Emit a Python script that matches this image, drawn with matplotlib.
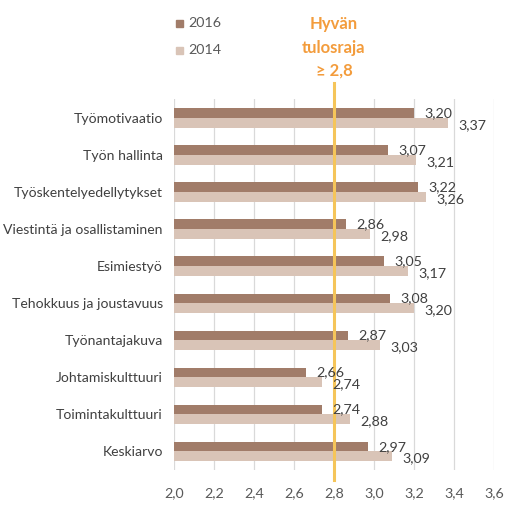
import matplotlib
matplotlib.use("Agg")
import matplotlib.pyplot as plt
import numpy as np

plt.rcParams['font.family'] = ['Lato', 'DejaVu Sans']

categories = ["Työmotivaatio", "Työn hallinta", "Työskentelyedellytykset",
              "Viestintä ja osallistaminen", "Esimiestyö", "Tehokkuus ja joustavuus",
              "Työnantajakuva", "Johtamiskulttuuri", "Toimintakulttuuri", "Keskiarvo"]
v2016 = [3.20, 3.07, 3.22, 2.86, 3.05, 3.08, 2.87, 2.66, 2.74, 2.97]
v2014 = [3.37, 3.21, 3.26, 2.98, 3.17, 3.20, 3.03, 2.74, 2.88, 3.09]
xticks = [2.0, 2.2, 2.4, 2.6, 2.8, 3.0, 3.2, 3.4, 3.6]
threshold = 2.8

c2016 = "#A17C69"
c2014 = "#D9C4B7"
corange = "#F39C3C"
cline = "#F5C55A"

fig = plt.figure(figsize=(5.18, 5.12), dpi=100)
ax = fig.add_axes([0.336, 0.082, 0.618, 0.724])

y = np.arange(len(categories))
h = 0.26
ax.barh(y - h/2, [v - 2.0 for v in v2016], left=2.0, height=h, color=c2016, zorder=3)
ax.barh(y + h/2, [v - 2.0 for v in v2014], left=2.0, height=h, color=c2014, zorder=3)

for i in range(len(categories)):
    ax.text(v2016[i] + 0.05, y[i] - h/2 + 0.0, f"{v2016[i]:.2f}".replace('.', ','),
            va='center', ha='left', fontsize=10.3, color='#404040', zorder=5)
    ax.text(v2014[i] + 0.05, y[i] + h/2 + 0.06, f"{v2014[i]:.2f}".replace('.', ','),
            va='center', ha='left', fontsize=10.3, color='#404040', zorder=5)

ax.plot([threshold, threshold], [9.77, -0.95], color=cline, lw=2.2, clip_on=False, zorder=4)

ax.set_xlim(2.0, 3.6)
ax.set_ylim(9.5, -0.5)
ax.set_xticks(xticks)
ax.set_xticklabels([f"{t:.1f}".replace('.', ',') for t in xticks], fontsize=10.3, color='#595959')
ax.set_yticks(y)
ax.set_yticklabels(categories, fontsize=10.1, color='#404040')
ax.tick_params(axis='x', length=0, pad=12)
ax.tick_params(axis='y', length=0, pad=8)
ax.grid(axis='x', color='#D9D9D9', lw=0.9, zorder=0)
for s in ax.spines.values():
    s.set_visible(False)

# legend
fig.patches.append(plt.Rectangle((176/518, 1 - 27/512), 7/518, 7/512, transform=fig.transFigure, color=c2016))
fig.patches.append(plt.Rectangle((176/518, 1 - 54/512), 7/518, 7/512, transform=fig.transFigure, color=c2014))
fig.text(188/518, 1 - 23/512, "2016", fontsize=10.3, color='#595959', va='center', ha='left')
fig.text(188/518, 1 - 50/512, "2014", fontsize=10.3, color='#595959', va='center', ha='left')

fig.text(334/518, 1 - 24/512, "Hyvän", fontsize=12, color=corange, fontweight='bold', ha='center', va='center')
fig.text(334/518, 1 - 48/512, "tulosraja", fontsize=12, color=corange, fontweight='bold', ha='center', va='center')
fig.text(334/518, 1 - 71/512, "≥ 2,8", fontsize=12, color=corange, fontweight='bold', ha='center', va='center')

fig.savefig("out.png", dpi=100, facecolor='white')
